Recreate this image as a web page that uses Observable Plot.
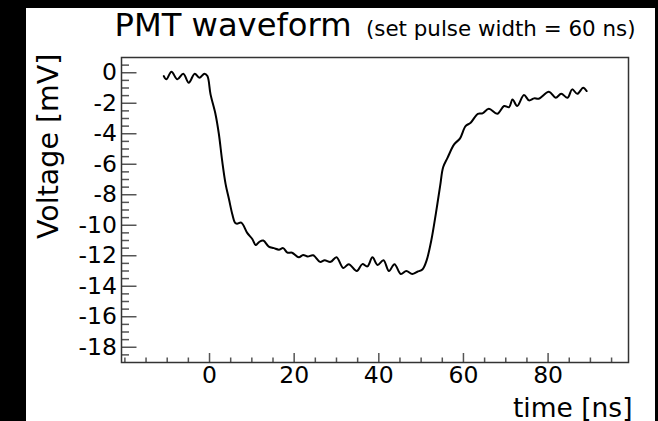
<!DOCTYPE html>
<html><head><meta charset="utf-8">
<script src="https://cdn.jsdelivr.net/npm/d3@7"></script>
<script src="https://cdn.jsdelivr.net/npm/@observablehq/plot@0.6"></script>
<style>
html,body{margin:0;padding:0;background:#000;width:658px;height:421px;overflow:hidden;}
#panel{position:absolute;left:26px;top:8px;width:629px;height:413px;background:#fff;}
#chart{position:absolute;left:0;top:0;}
</style></head><body>
<div id="panel"></div>
<div id="chart"></div>
<script>
const time = [-10.8,-10.2,-9.0,-7.6,-6.2,-4.9,-3.5,-2.4,-1.2,-0.5,0.24,1.4,2.2,3.0,3.8,4.6,5.4,6.0,6.5,7.5,8.9,10.1,10.9,11.7,12.7,14.0,15.2,16.4,17.4,18.4,19.5,21.1,22.1,23.2,24.5,26.1,27.2,28.6,30.0,31.6,32.9,34.8,36.1,37.3,38.5,39.7,41.1,42.4,43.7,45.2,46.5,47.9,49.1,50.3,51.3,52.4,53.5,54.5,55.2,56.2,57.8,59.2,60.5,61.7,63.4,64.5,66.0,68.0,69.6,70.8,71.6,72.7,74.3,75.5,76.7,77.8,80.2,81.8,83.1,84.6,85.7,86.9,88.3,89.1];
const voltage = [-0.22,-0.43,0.07,-0.43,-0.06,-0.65,-0.06,-0.33,-0.06,-0.22,-1.42,-2.7,-4.0,-5.8,-7.3,-8.3,-9.3,-9.83,-9.9,-9.83,-10.5,-10.9,-11.3,-11.1,-11.0,-11.4,-11.5,-11.6,-11.5,-11.8,-11.8,-12.1,-11.95,-12.05,-11.97,-12.4,-12.3,-12.4,-12.1,-12.8,-12.55,-13.0,-12.55,-12.7,-12.1,-12.6,-12.3,-13.0,-12.55,-13.2,-13.0,-13.2,-13.05,-12.9,-12.3,-11.0,-9.2,-7.4,-6.2,-5.6,-4.7,-4.3,-3.5,-3.28,-2.69,-2.66,-2.36,-2.69,-2.18,-2.25,-1.75,-2.18,-1.46,-1.81,-1.68,-1.7,-1.25,-1.64,-1.38,-1.64,-1.09,-1.38,-0.98,-1.2];
const yMajor = [0,-2,-4,-6,-8,-10,-12,-14,-16,-18];
const yMinor = [0.5,-0.5,-1,-1.5,-2.5,-3,-3.5,-4.5,-5,-5.5,-6.5,-7,-7.5,-8.5,-9,-9.5,-10.5,-11,-11.5,-12.5,-13,-13.5,-14.5,-15,-15.5,-16.5,-17,-17.5,-18.5];
const xMajor = [0,20,40,60,80];
const xMinor = [-20,-15,-10,-5,5,10,15,25,30,35,45,50,55,65,70,75,85,90,95];
const title = "PMT waveform";
const subtitle = "(set pulse width = 60 ns)";
const xLabel = "time [ns]";
const yLabel = "Voltage [mV]";

const data = time.map((t,i)=>({t, v: voltage[i]}));
const mL=121, mR=30, mT=57, mB=59, W=658, H=421;
const iw = W-mL-mR, ih = H-mT-mB;
const tickCol = "#555";
const font = '"DejaVu Sans", sans-serif';

const chart = Plot.plot({
  width: W, height: H,
  marginLeft: mL, marginRight: mR, marginTop: mT, marginBottom: mB,
  x: {domain: [-20.8, 99], label: null},
  y: {domain: [-19, 1], label: null},
  style: {background: "transparent", fontFamily: font, color: "#000", overflow: "visible"},
  marks: [
    Plot.tickY(yMinor, {y: d=>d, insetRight: iw-8, stroke: tickCol, strokeWidth: 1.5}),
    Plot.tickY(yMajor, {y: d=>d, insetRight: iw-15.5, stroke: tickCol, strokeWidth: 1.5}),
    Plot.tickX(xMinor, {x: d=>d, insetTop: ih-4.5, stroke: tickCol, strokeWidth: 1.5}),
    Plot.tickX(xMajor, {x: d=>d, insetTop: ih-9, stroke: tickCol, strokeWidth: 1.5}),
    Plot.axisY(yMajor, {tickSize: 0, tickPadding: 4.5, fontSize: 23.5, label: null, tickFormat: d=>String(d)}),
    Plot.axisX(xMajor, {tickSize: 0, tickPadding: 3.5, fontSize: 23.5, label: null, tickFormat: d=>String(d)}),
    Plot.frame({stroke: "#333", strokeWidth: 1.5}),
    Plot.line(data, {x: "t", y: "v", stroke: "#000", strokeWidth: 2, curve: "catmull-rom"}),
    Plot.text([title], {frameAnchor: "top-left", textAnchor: "start", lineAnchor: "bottom", dx: -7, dy: -21.5, fontSize: 32.2, fill: "#000"}),
    Plot.text([subtitle], {frameAnchor: "top-right", textAnchor: "end", lineAnchor: "bottom", dx: 7, dy: -21.5, fontSize: 21.4, fill: "#000"}),
    Plot.text([xLabel], {frameAnchor: "bottom-right", textAnchor: "end", lineAnchor: "bottom", dx: 4, dy: 54, fontSize: 26.5, fill: "#000"}),
    Plot.text([yLabel], {frameAnchor: "top-left", rotate: -90, textAnchor: "end", lineAnchor: "bottom", dx: -64, dy: -4, fontSize: 28.5, fill: "#000"})
  ]
});
document.getElementById("chart").appendChild(chart);
</script>
</body></html>
